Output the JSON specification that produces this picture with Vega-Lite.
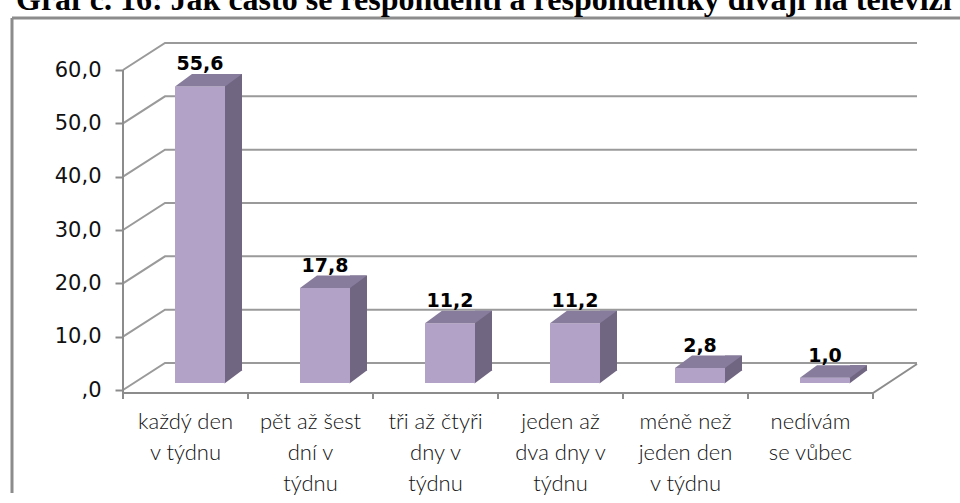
{
  "$schema": "https://vega.github.io/schema/vega-lite/v6.json",
  "autosize": "none",
  "width": 948,
  "height": 475,
  "padding": {"left": 12, "top": 18, "right": 0, "bottom": 10},
  "background": "white",
  "title": {
    "text": "Graf č. 16: Jak často se respondenti a respondentky dívají na televizi",
    "anchor": "start",
    "frame": "group",
    "font": "Liberation Serif",
    "fontSize": 32,
    "fontWeight": "bold",
    "color": "black",
    "baseline": "alphabetic",
    "offset": 6,
    "dx": 4,
    "dy": 30
  },
  "config": {
    "view": {"stroke": "#8c8c8c", "strokeWidth": 3, "strokeDash": [948, 1423, 475, 0]},
    "locale": {"number": {"decimal": ",", "thousands": " ", "grouping": [3], "currency": ["", " Kč"]}}
  },
  "datasets": {
    "bars": [
      {"c": "každý den|v týdnu", "v": 55.6},
      {"c": "pět až šest|dní v|týdnu", "v": 17.8},
      {"c": "tři až čtyři|dny v|týdnu", "v": 11.2},
      {"c": "jeden až|dva dny v|týdnu", "v": 11.2},
      {"c": "méně než|jeden den|v týdnu", "v": 2.8},
      {"c": "nedívám|se vůbec", "v": 1.0}
    ],
    "grid": [{"t": 0}, {"t": 10}, {"t": 20}, {"t": 30}, {"t": 40}, {"t": 50}, {"t": 60}]
  },
  "encoding": {
    "x": {
      "field": "c",
      "type": "nominal",
      "sort": null,
      "scale": {
        "domain": ["každý den|v týdnu", "pět až šest|dní v|týdnu", "tři až čtyři|dny v|týdnu", "jeden až|dva dny v|týdnu", "méně než|jeden den|v týdnu", "nedívám|se vůbec"],
        "paddingInner": 0,
        "paddingOuter": 0.792,
        "align": 0.5606
      },
      "axis": {
        "title": null,
        "orient": "bottom",
        "offset": -100,
        "domain": false,
        "ticks": false,
        "grid": false,
        "labelAngle": 0,
        "labelPadding": 18,
        "labelFont": "Lato",
        "labelFontWeight": 300,
        "labelFontSize": 22,
        "labelColor": "#111111",
        "labelLineHeight": 31,
        "labelOverlap": false,
        "labelLimit": 200,
        "labelExpr": "split(datum.label, '|')"
      }
    },
    "y": {
      "field": "v",
      "type": "quantitative",
      "scale": {"domain": [-19.3125, 69.75], "nice": false, "zero": false},
      "axis": {
        "title": null,
        "orient": "left",
        "offset": -111,
        "domain": false,
        "grid": false,
        "values": [0, 10, 20, 30, 40, 50, 60],
        "format": ".1f",
        "labelExpr": "datum.value === 0 ? ',0' : datum.label",
        "tickSize": 8,
        "tickWidth": 2,
        "tickColor": "#8c8c8c",
        "labelPadding": 14,
        "labelFont": "DejaVu Sans",
        "labelFontSize": 21,
        "labelColor": "#111111"
      }
    }
  },
  "layer": [
    {
      "data": {"name": "grid"},
      "mark": {"type": "point", "shape": "M0,0L42,-27H794", "size": 4, "filled": false, "stroke": "#9a9a9a", "strokeWidth": 2, "opacity": 1},
      "encoding": {
        "x": {"datum": "každý den|v týdnu", "bandPosition": 0},
        "y": {"field": "t", "type": "quantitative"}
      }
    },
    {
      "data": {"name": "grid"},
      "mark": {"type": "point", "shape": "M0,0H750L794,-29M0,0V6M125,0V6M250,0V6M375,0V6M500,0V6M625,0V6M750,0V6", "size": 4, "filled": false, "stroke": "#8c8c8c", "strokeWidth": 2, "opacity": 1, "yOffset": 3},
      "transform": [{"filter": "datum.t === 0"}],
      "encoding": {
        "x": {"datum": "každý den|v týdnu", "bandPosition": 0},
        "y": {"field": "t", "type": "quantitative"}
      }
    },
    {
      "data": {"name": "grid"},
      "mark": {"type": "rule", "stroke": "#8c8c8c", "strokeWidth": 2, "y2Offset": 8},
      "transform": [{"filter": "datum.t === 60"}],
      "encoding": {
        "x": {"datum": "každý den|v týdnu", "bandPosition": 0},
        "y": {"field": "t", "type": "quantitative"},
        "y2": {"datum": 0}
      }
    },
    {
      "data": {"name": "bars"},
      "mark": {"type": "bar", "width": 17, "color": "#716681", "xOffset": 48, "yOffset": -19.5, "y2Offset": -19.5},
      "encoding": {"y2": {"datum": 0}}
    },
    {
      "data": {"name": "bars"},
      "mark": {"type": "point", "shape": "M-9,-13H9L-9,0.5Z", "size": 4, "filled": true, "fill": "#716681", "strokeWidth": 0, "opacity": 1, "xOffset": 48, "yOffset": -7},
      "encoding": {"y": {"datum": 0}}
    },
    {
      "data": {"name": "bars"},
      "mark": {"type": "bar", "width": 50, "color": "#b3a2c7", "xOffset": 14.5, "yOffset": -7, "y2Offset": -7},
      "encoding": {"y2": {"datum": 0}}
    },
    {
      "data": {"name": "bars"},
      "mark": {"type": "point", "shape": "M-25,0H25L42,-12.5H-8Z", "size": 4, "filled": true, "fill": "#877c9c", "strokeWidth": 0, "opacity": 1, "xOffset": 14.5, "yOffset": -7}
    },
    {
      "data": {"name": "bars"},
      "mark": {"type": "text", "font": "DejaVu Sans", "fontWeight": "bold", "fontSize": 19, "color": "black", "baseline": "alphabetic", "align": "center", "xOffset": 14.5, "yOffset": -7, "dy": -16},
      "encoding": {"text": {"field": "v", "type": "quantitative", "format": ".1f"}}
    }
  ]
}
